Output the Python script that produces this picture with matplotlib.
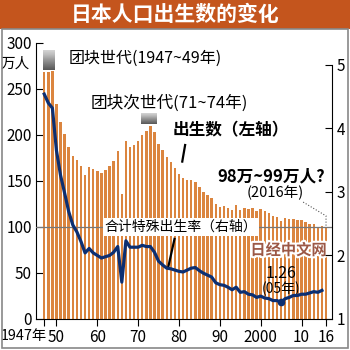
import numpy as np
import matplotlib.pyplot as plt
import matplotlib.patheffects as pe
import matplotlib.transforms as mtransforms
from matplotlib.patches import Rectangle

plt.rcParams['font.family'] = ['Liberation Sans Narrow', 'Noto Sans CJK SC', 'DejaVu Sans']

# births per year (10k people)
years = np.arange(1947, 2017)
births = [267.9, 268.2, 269.7, 233.8, 213.8, 200.5, 186.8, 177.0, 173.1, 166.5,
          156.7, 165.3, 162.6, 160.6, 158.9, 161.9, 166.0, 171.7, 182.4, 136.1,
          193.6, 187.2, 189.0, 193.4, 200.1, 203.9, 209.2, 203.0, 190.1, 183.3,
          175.5, 170.9, 164.3, 157.7, 152.9, 151.5, 150.9, 149.0, 143.2, 138.3,
          134.7, 131.4, 124.7, 122.2, 122.3, 120.9, 118.8, 123.8, 118.7, 120.7,
          119.2, 120.3, 117.8, 119.1, 117.1, 115.4, 112.4, 111.1, 106.3, 109.3,
          109.0, 109.1, 107.0, 107.1, 105.1, 103.7, 103.0, 100.4, 100.6, 98.5]

# total fertility rate, 1947-2015
tfr_years = np.arange(1947, 2016)
tfr = [4.54, 4.40, 4.32, 3.65, 3.26, 2.98, 2.69, 2.48, 2.37, 2.22,
       2.04, 2.11, 2.04, 2.00, 1.96, 1.98, 2.00, 2.05, 2.14, 1.58,
       2.23, 2.13, 2.13, 2.13, 2.16, 2.14, 2.14, 2.05, 1.91, 1.85,
       1.80, 1.79, 1.77, 1.75, 1.74, 1.77, 1.80, 1.81, 1.76, 1.72,
       1.69, 1.66, 1.57, 1.54, 1.53, 1.50, 1.46, 1.50, 1.42, 1.43,
       1.39, 1.38, 1.34, 1.36, 1.33, 1.32, 1.29, 1.29, 1.26, 1.32,
       1.34, 1.37, 1.37, 1.39, 1.39, 1.41, 1.43, 1.42, 1.45]

xticks = [1947, 1950, 1960, 1970, 1980, 1990, 2000, 2010, 2016]
xlabels = ['1947年', '50', '60', '70', '80', '90', '2000', '10', '16']

bar_col = '#db853f'
line_col = '#0c2f72'

fig = plt.figure(figsize=(3.5, 3.5), dpi=100)

# title band + outer frame
fig.patches.append(Rectangle((0, 0.918), 1, 0.082, transform=fig.transFigure,
                             facecolor='#c4551d', edgecolor='none'))
fig.patches.append(Rectangle((0.006, 0.006), 0.988, 0.912, transform=fig.transFigure,
                             facecolor='none', edgecolor='#888888', lw=1.2))
fig.text(0.5, 0.958, '日本人口出生数的变化', color='white', fontsize=15,
         fontweight='bold', ha='center', va='center', family='Noto Sans CJK SC')

ax = fig.add_axes([0.103, 0.0886, 0.846, 0.789])
ax.bar(years, births, width=0.6, color=bar_col, zorder=2)
ax.set_xlim(1945.0, 2017.5)
ax.set_ylim(0, 300)
ax.axhline(100, color='#777777', lw=0.9, zorder=3)

ax.set_yticks([0, 50, 100, 150, 200, 250, 300])
ax.set_xticks(xticks)
ax.set_xticklabels(xlabels)
ax.tick_params(axis='y', direction='in', length=5, labelsize=11, pad=3)
ax.tick_params(axis='x', direction='out', length=5, labelsize=11, pad=2.5)
# first year label sits to the left of its tick
first = ax.get_xticklabels()[0]
first.set_ha('right')
first.set_fontsize(10.3)
first.set_transform(first.get_transform() +
                    mtransforms.ScaledTranslation(3 / 100, 0, fig.dpi_scale_trans))
for s in ['top', 'right']:
    ax.spines[s].set_visible(False)
ax.spines['left'].set_bounds(0, 300)
ax.text(-0.02, 0.925, '万人', transform=ax.transAxes, ha='right', va='center', fontsize=10.5)

# shaded boxes for the baby boom generations
grad = np.linspace(0, 1, 50).reshape(-1, 1)
ax.imshow(grad, extent=(1946.6, 1949.4, 270, 291), cmap='Greys', vmin=-0.6, vmax=1.6,
          aspect='auto', zorder=2)
ax.imshow(grad, extent=(1970.6, 1974.4, 212, 223), cmap='Greys', vmin=-0.6, vmax=1.6,
          aspect='auto', zorder=2)

ax.text(1952.9, 283, '团块世代(1947~49年)', fontsize=11.5, va='center')
ax.text(1958.3, 234.5, '团块次世代(71~74年)', fontsize=12, va='center')
ax.text(1978.4, 205, '出生数（左轴）', fontsize=12, fontweight='bold', va='center')
ax.plot([1981.5, 1980.8], [189, 171], color='black', lw=1.6, zorder=4)
ax.text(1989.5, 155, '98万~99万人?', fontsize=12, fontweight='bold', va='center')
ax.text(2003.6, 136.5, '(2016年)', fontsize=10.5, ha='center', va='center')
ax.plot([2010.4, 2016, 2016], [127, 112, 101], color='#555555', lw=0.8, ls=':', zorder=4)

ax.text(1961.8, 100, '合计特殊出生率（右轴）', fontsize=10, va='center', zorder=5,
        bbox=dict(facecolor='white', edgecolor='none', pad=1.5))
ax.plot([1978.9, 1977.4], [87, 57], color='black', lw=1.6, zorder=4)

wm = ax.text(2006.8, 75, '日经中文网', fontsize=11, fontweight='bold', color='#9c5846',
             ha='center', va='center', zorder=5, family='Noto Sans CJK SC')
wm.set_path_effects([pe.withStroke(linewidth=3, foreground='white')])

ax2 = ax.twinx()
ax2.set_ylim(1, 1 + 276 / 63.5)
ax2.plot(tfr_years, tfr, color=line_col, lw=2.3, zorder=5)
ax2.plot([2005], [1.26], 'o', color=line_col, ms=4.5, zorder=6)
ax2.text(2005, 1.71, '1.26', fontsize=11.5, ha='center', va='center')
ax2.text(2005, 1.48, '(05年)', fontsize=10, ha='center', va='center')
ax2.set_yticks([1, 2, 3, 4, 5])
ax2.tick_params(axis='y', direction='in', length=5, labelsize=11, pad=3)
for s in ['top', 'left', 'bottom']:
    ax2.spines[s].set_visible(False)
ax2.spines['right'].set_bounds(1, 5)

plt.savefig('out.png', dpi=100)
